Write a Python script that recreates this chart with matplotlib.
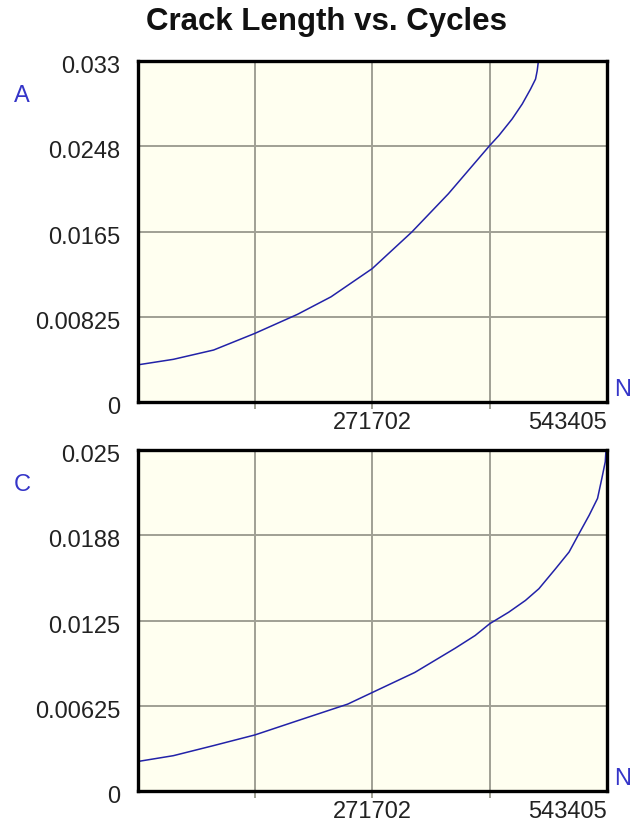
import matplotlib
matplotlib.use('Agg')
import matplotlib.pyplot as plt
import matplotlib.transforms as mtransforms

plt.rcParams['font.family'] = ['Liberation Sans', 'DejaVu Sans']

# Data
cycles_a = [0, 41530, 88100, 135851, 185100, 224000, 271702, 317500, 359800,
            407554, 418200, 433600, 445300, 454900, 460700, 462600, 463800, 464000]
crack_a = [0.00359, 0.00413, 0.00503, 0.00664, 0.00848, 0.01018, 0.01291,
           0.01645, 0.02015, 0.02481, 0.02578, 0.02739, 0.02884, 0.03028,
           0.03125, 0.03205, 0.03286, 0.033]

cycles_c = [0, 41530, 88100, 135851, 185100, 243300, 271702, 320900, 367500,
            390800, 407554, 429670, 448990, 464590, 483900, 499510, 511150,
            522790, 532450, 537450, 541410, 542100]
crack_c = [0.00216, 0.00259, 0.00333, 0.00411, 0.00515, 0.00637, 0.00722,
           0.00869, 0.01046, 0.0114, 0.01226, 0.01311, 0.01397, 0.01483,
           0.0163, 0.01752, 0.01888, 0.02022, 0.02145, 0.02292, 0.02414, 0.02488]

n_max = 543405
x_grid = [135851, 271702, 407554]
x_labels = ['', '271702', '']

a_ticks = [0, 0.00825, 0.0165, 0.0248, 0.033]
a_labels = ['0', '0.00825', '0.0165', '0.0248', '0.033']
c_ticks = [0, 0.00625, 0.0125, 0.0188, 0.025]
c_labels = ['0', '0.00625', '0.0125', '0.0188', '0.025']

W, H = 630, 828
dpi = 100
fig = plt.figure(figsize=(W / dpi, H / dpi), dpi=dpi)
fig.patch.set_facecolor('white')

face = '#fffff0'
grid_c = '#a0a094'
line_c = '#2222a8'
label_c = '#3535c8'
fs = 17


def panel(top, bottom, xs, ys, yticks, ylabels, name):
    left, right = 137.5, 607
    ax = fig.add_axes([left / W, 1 - bottom / H, (right - left) / W, (bottom - top) / H])
    ax.set_facecolor(face)
    ax.plot(xs, ys, color=line_c, lw=1.1)
    ax.set_xlim(0, n_max)
    ax.set_ylim(yticks[0], yticks[-1])

    ax.set_xticks(x_grid)
    ax.set_xticklabels(x_labels)
    ax.set_xticks([n_max], minor=True)
    ax.set_xticklabels(['543405'], minor=True)
    ax.set_yticks(yticks[1:-1])
    ax.set_yticklabels(ylabels[1:-1])
    ax.set_yticks([yticks[0], yticks[-1]], minor=True)
    ax.set_yticklabels([ylabels[0], ylabels[-1]], minor=True)

    ax.grid(True, which='major', color=grid_c, lw=1.4)
    ax.tick_params(axis='x', which='major', direction='out', length=4.7,
                   width=1.4, color=grid_c, labelsize=fs, pad=1.5, labelcolor='#222222')
    ax.tick_params(axis='x', which='minor', length=0, labelsize=fs, pad=6.5,
                   labelcolor='#222222')
    ax.tick_params(axis='y', which='both', length=0, labelsize=fs, pad=12.5,
                   labelcolor='#222222')
    for t in ax.get_xticklabels(minor=True):
        t.set_horizontalalignment('right')
    shift = mtransforms.ScaledTranslation(0, -3 / dpi, fig.dpi_scale_trans)
    for t in ax.get_yticklabels() + ax.get_yticklabels(minor=True):
        t.set_transform(t.get_transform() + shift)

    for s in ax.spines.values():
        s.set_linewidth(2.4)
        s.set_color('black')
        s.set_zorder(5)

    fig.text(22 / W, 1 - (top + 34) / H, name, color=label_c, fontsize=fs,
             ha='center', va='center')
    fig.text(614 / W, 1 - (bottom - 13) / H, 'N', color=label_c, fontsize=fs,
             ha='left', va='center')
    return ax


panel(62, 403, cycles_a, crack_a, a_ticks, a_labels, 'A')
panel(451, 792, cycles_c, crack_c, c_ticks, c_labels, 'C')

fig.text(326 / W, 1 - 22 / H, 'Crack Length vs. Cycles', fontsize=22.5,
         fontweight='bold', ha='center', va='center', color='#111111')

fig.savefig('out.png', dpi=dpi)
